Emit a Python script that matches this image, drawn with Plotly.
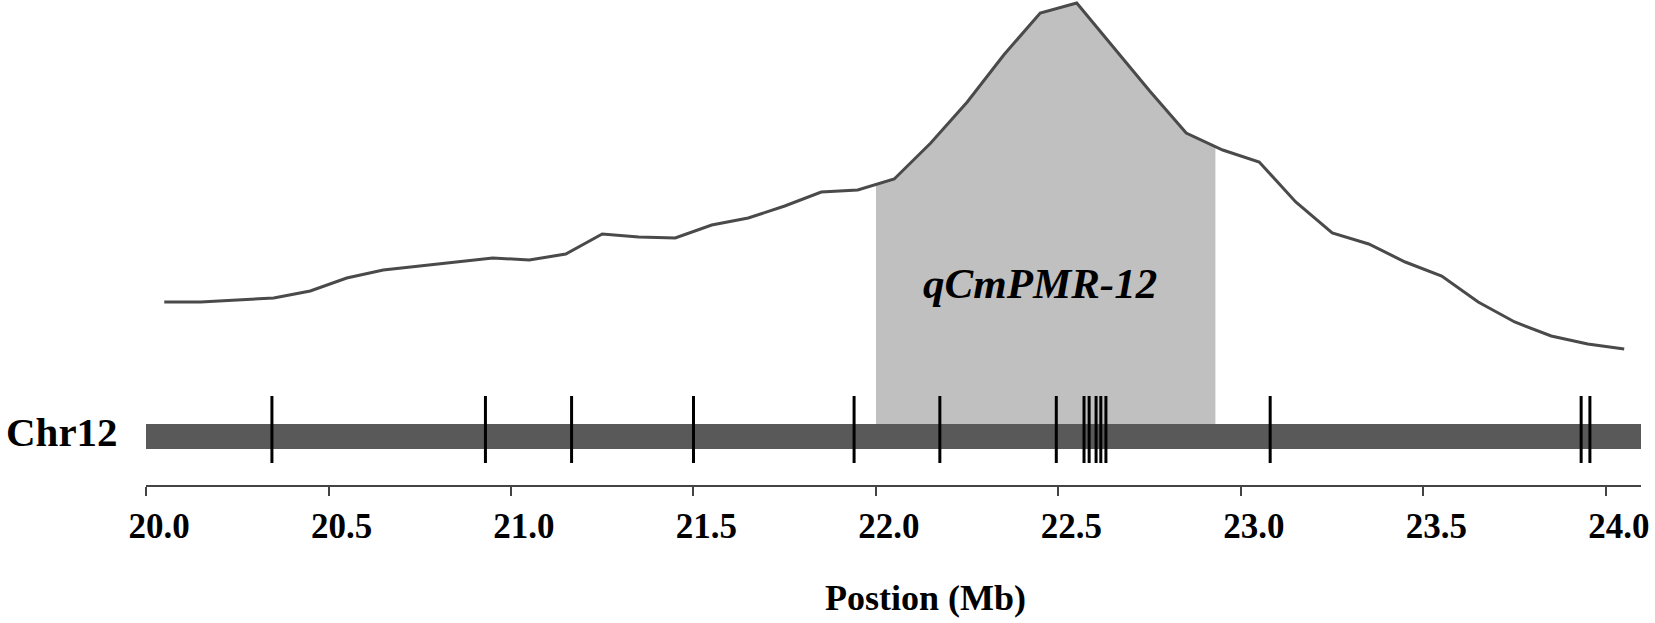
import numpy as np
import plotly.graph_objects as go

# QTL scan along Chr12 (position in Mb, score in chart units)
pos_mb = [20.05, 20.15, 20.25, 20.35, 20.45, 20.55, 20.65, 20.75, 20.85, 20.95,
          21.05, 21.15, 21.25, 21.35, 21.45, 21.55, 21.65, 21.75, 21.85, 21.95,
          22.05, 22.15, 22.25, 22.35, 22.45, 22.55, 22.65, 22.75, 22.85, 22.95,
          23.05, 23.15, 23.25, 23.35, 23.45, 23.55, 23.65, 23.75, 23.85, 23.95, 24.05]
lod = [18.3, 18.3, 18.5, 18.7, 19.4, 20.7, 21.5, 21.9, 22.3, 22.7,
       22.5, 23.1, 25.1, 24.8, 24.7, 26.0, 26.7, 27.9, 29.3, 29.5,
       30.6, 34.2, 38.3, 43.0, 47.2, 48.2, 43.8, 39.4, 35.2, 33.5,
       32.3, 28.3, 25.2, 24.1, 22.3, 20.9, 18.3, 16.3, 14.9, 14.1, 13.6]

# marker positions on the chromosome (Mb)
markers = [20.345, 20.93, 21.166, 21.50, 21.94, 22.175, 22.494,
           22.570, 22.584, 22.603, 22.616, 22.630, 23.08, 23.932, 23.956]

# QTL interval
qtl_name = 'qCmPMR-12'
qtl_start, qtl_end = 22.0, 22.93

chrom_name = 'Chr12'
chrom_start, chrom_end = 20.0, 24.096
bar_lo, bar_hi = 3.6, 6.1
mark_lo, mark_hi = 2.2, 8.9

tick_vals = [20.0, 20.5, 21.0, 21.5, 22.0, 22.5, 23.0, 23.5, 24.0]
tick_text = ['%.1f' % v for v in tick_vals]

serif = 'Liberation Serif, Times New Roman, serif'

fig = go.Figure()

# shaded QTL region: from chromosome top up to the curve
px_ = np.array(pos_mb)
py_ = np.array(lod)
inside = (px_ > qtl_start) & (px_ < qtl_end)
sx = [qtl_start] + list(px_[inside]) + [qtl_end, qtl_end, qtl_start]
sy = ([np.interp(qtl_start, px_, py_)] + list(py_[inside]) +
      [np.interp(qtl_end, px_, py_), bar_hi, bar_hi])
fig.add_trace(go.Scatter(x=sx, y=sy, fill='toself', fillcolor='#c0c0c0',
                         mode='lines', line=dict(width=0), hoverinfo='skip'))

# chromosome bar
fig.add_trace(go.Scatter(x=[chrom_start, chrom_end, chrom_end, chrom_start, chrom_start],
                         y=[bar_lo, bar_lo, bar_hi, bar_hi, bar_lo],
                         fill='toself', fillcolor='#595959', mode='lines',
                         line=dict(width=0), hoverinfo='skip'))

# markers
mx, my = [], []
for m in markers:
    mx += [m, m, None]
    my += [mark_lo, mark_hi, None]
fig.add_trace(go.Scatter(x=mx, y=my, mode='lines',
                         line=dict(color='#000000', width=3), hoverinfo='skip'))

# score curve
fig.add_trace(go.Scatter(x=pos_mb, y=lod, mode='lines', cliponaxis=False,
                         line=dict(color='#4a4a4a', width=3)))

fig.add_annotation(x=22.45, y=20.2, xref='x', yref='y', text=qtl_name,
                   showarrow=False, xanchor='center', yanchor='middle',
                   font=dict(family=serif, size=43, color='#000000',
                             weight='bold', style='italic'))
fig.add_annotation(x=-0.0565, y=5.35, xref='paper', yref='y',
                   text=chrom_name, showarrow=False, xanchor='center', yanchor='middle',
                   font=dict(family=serif, size=41, color='#000000', weight='bold'))
fig.add_annotation(x=22.136, y=-0.233, xref='x', yref='paper',
                   text='Postion (Mb)', showarrow=False, xanchor='center', yanchor='middle',
                   font=dict(family=serif, size=36, color='#000000', weight='bold'))

fig.update_xaxes(range=[20.0, 24.096], showgrid=False, zeroline=False,
                 showline=True, linecolor='#444444', linewidth=1.5,
                 ticks='outside', ticklen=9, tickcolor='#444444', tickwidth=1.5,
                 tickvals=tick_vals, ticktext=tick_text, ticklabelshift=13,
                 tickfont=dict(family=serif, size=35, color='#000000', weight='bold'))
fig.update_yaxes(range=[0, 48.5], visible=False, showgrid=False, zeroline=False)

fig.update_layout(width=1655, height=623, showlegend=False,
                  plot_bgcolor='white', paper_bgcolor='white',
                  margin=dict(l=146, r=14, t=0, b=138))

# drop the default page margin so the figure fills the window exactly
fig.write_html("out.html", config={'displayModeBar': False},
               post_script="document.body.style.margin='0';"
                           "document.body.style.overflow='hidden';")
